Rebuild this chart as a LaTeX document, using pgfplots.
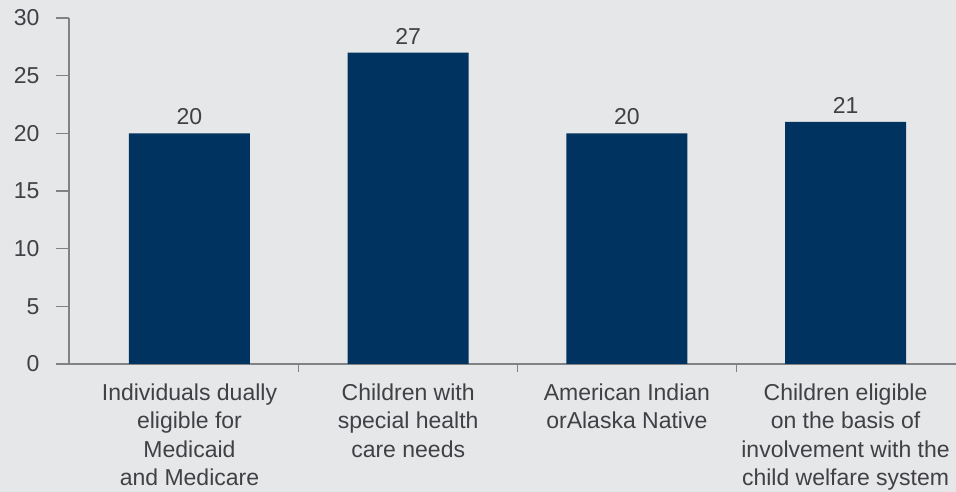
\documentclass[border=0pt]{standalone}
\usepackage{pgfplots}
\pgfplotsset{compat=1.18}
\usepackage{fontspec}
\setmainfont{Liberation Sans}
\definecolor{bg}{HTML}{E6E7E8}
\definecolor{bar}{HTML}{00335F}
\definecolor{txt}{HTML}{404045}
\definecolor{axc}{HTML}{808285}
\begin{document}
\begin{tikzpicture}
\path[use as bounding box, fill=bg] (-69pt,-128pt) rectangle (887pt,364pt);
\begin{axis}[
  at={(0,0)}, anchor=south west,
  scale only axis, width=887pt, height=346pt,
  xmin=-0.551, xmax=3.505, ymin=0, ymax=30,
  axis x line=bottom, axis y line=left,
  axis line style={draw=axc, line width=1.2pt, -},
  ytick={0,5,...,30},
  xtick={0,1,2,3},
  xticklabels={{Individuals dually\\eligible for\\Medicaid\\and Medicare},
               {Children with\\special health\\care needs},
               {American Indian\\orAlaska Native},
               {Children eligible\\on the basis of\\involvement with the\\child welfare system}},
  minor xtick={0.5,1.5,2.5},
  major x tick style={draw=none},
  tick align=outside,
  major tick length=13pt, minor tick length=8pt,
  major tick style={draw=axc, line width=1.2pt},
  minor tick style={draw=axc, line width=1.2pt},
  tick label style={font=\fontsize{23}{28.5}\selectfont, text=txt},
  yticklabel style={xshift=-13pt},
  xticklabel style={align=center, yshift=-3pt},
  /pgf/number format/assume math mode=true,
  clip=false,
]
\addplot[ybar, bar width=121pt, fill=bar, draw=none,
  nodes near coords,
  nodes near coords style={font=\fontsize{23}{25}\selectfont, text=txt, yshift=5pt}]
  coordinates {(0,20) (1,27) (2,20) (3,21)};
\end{axis}
\end{tikzpicture}
\end{document}
